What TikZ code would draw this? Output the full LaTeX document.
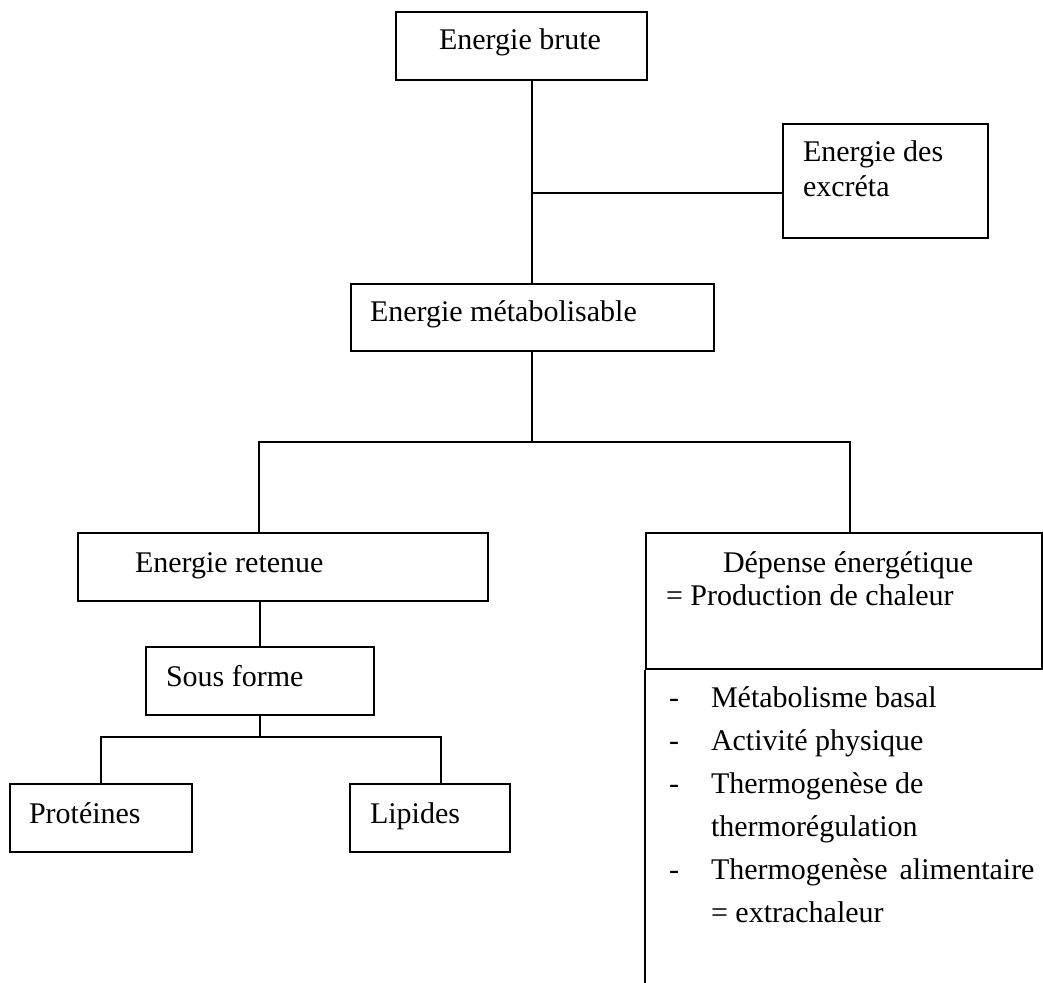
\documentclass[tikz,border=0pt]{standalone}
\usepackage{fontspec}
\setmainfont{Liberation Serif}
\usepackage{tikz}
\newcommand{\px}{0.5pt}

\begin{document}
\begin{tikzpicture}[x=\px, y=-\px, line width=1pt,
    rect/.style={draw, rectangle, anchor=north west, inner sep=0pt},
    txt/.style={anchor=base west, inner sep=0pt, font=\fontsize{15}{18}\selectfont}]
    \useasboundingbox (0,0) rectangle (1043,983);

    % Boxes
    \node[rect, minimum width=251*\px, minimum height=68*\px] (brute) at (395,11) {};
    \node[rect, minimum width=205*\px, minimum height=114*\px] (excr) at (782,123) {};
    \node[rect, minimum width=363*\px, minimum height=67*\px] (meta) at (350,283) {};
    \node[rect, minimum width=410*\px, minimum height=68*\px] (ret) at (77,532) {};
    \node[rect, minimum width=228*\px, minimum height=68*\px] (sous) at (145,646) {};
    \node[rect, minimum width=182*\px, minimum height=68*\px] (prot) at (9,783) {};
    \node[rect, minimum width=160*\px, minimum height=68*\px] (lip) at (349,783) {};
    \node[rect, minimum width=396*\px, minimum height=136*\px] (dep) at (645,532) {};

    % Texts
    \node[txt, anchor=base] (brute-t) at (520,50) {Energie brute};
    \node[txt] (excr-t1) at (802,162) {Energie des};
    \node[txt] (excr-t2) at (802,197) {excréta};
    \node[txt] (meta-t) at (369,322) {Energie métabolisable};
    \node[txt] (ret-t) at (134,572) {Energie retenue};
    \node[txt] (sous-t) at (165,686) {Sous forme};
    \node[txt] (prot-t) at (28,823) {Protéines};
    \node[txt] (lip-t) at (369,823) {Lipides};
    \node[txt] (dep-t1) at (722,572) {Dépense énergétique};
    \node[txt] (dep-t2) at (665,605) {= Production de chaleur};

    % List of expenses
    \node[txt] (dash-1) at (668,707) {-};
    \node[txt] (item-1) at (710,707) {Métabolisme basal};
    \node[txt] (dash-2) at (668,750) {-};
    \node[txt] (item-2) at (710,750) {Activité physique};
    \node[txt] (dash-3) at (668,793) {-};
    \node[txt] (item-3) at (710,793) {Thermogenèse de};
    \node[txt] (item-3b) at (710,836) {thermorégulation};
    \node[txt] (dash-4) at (668,879) {-};
    \node[txt] (item-4) at (710,879) {Thermogenèse\hspace{0.4em}alimentaire};
    \node[txt] (item-4b) at (710,922) {= extrachaleur};

    % Connectors
    \coordinate (spine) at (532,193);
    \draw (spine |- brute.south) -- (spine |- meta.north);
    \draw (spine) -- (spine -| excr.west);

    \coordinate (fork) at (532,442);
    \coordinate (fork-l) at (259,442);
    \coordinate (fork-r) at (850,442);
    \draw (fork |- meta.south) -- (fork);
    \draw (fork-l |- ret.north) -- (fork-l) -- (fork-r) -- (fork-r |- dep.north);

    \draw (sous.north) -- (sous.north |- ret.south);
    \coordinate (split) at (259,737);
    \coordinate (split-r) at (441,737);
    \draw (sous.south) -- (sous.south |- split);
    \draw (prot.north) |- (split-r) -- (split-r |- lip.north);

    \coordinate (dep-end) at (645,983);
    \draw (dep.south west) -- (dep-end);

\end{tikzpicture}
\end{document}
